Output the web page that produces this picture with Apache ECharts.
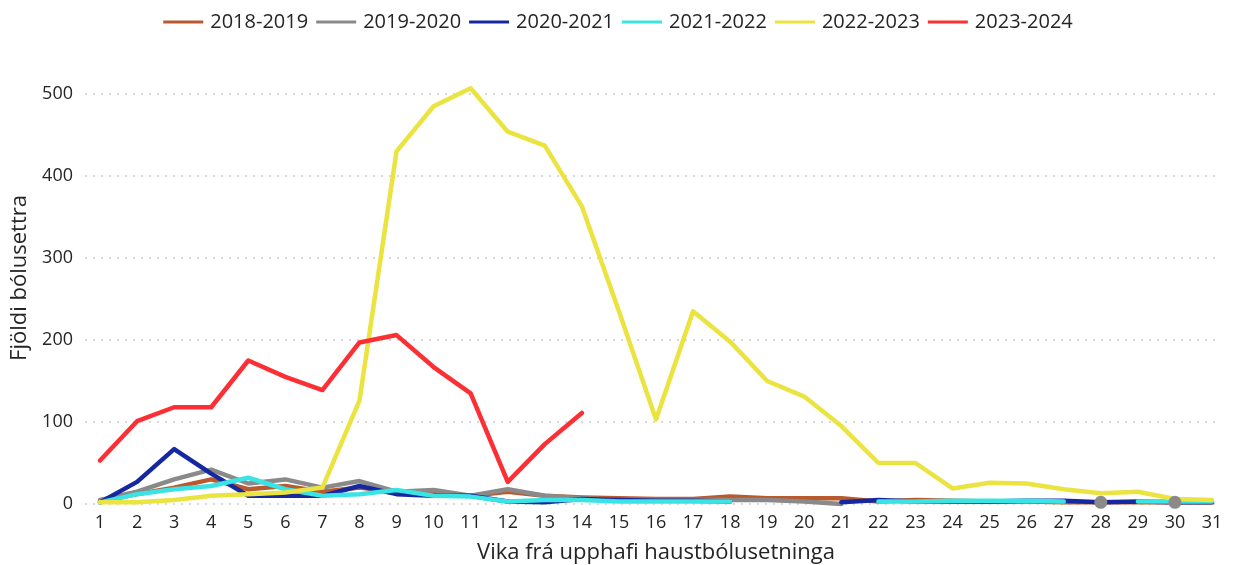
<!DOCTYPE html>
<html>
<head>
<meta charset="utf-8">
<script src="https://cdn.jsdelivr.net/npm/echarts@6/dist/echarts.min.js"></script>
<style>
  html, body { margin: 0; padding: 0; background: #fff; }
  #chart { width: 1236px; height: 565px; }
</style>
</head>
<body>
<div id="chart"></div>
<script>
var weeks = [];
for (var w = 1; w <= 31; w++) weeks.push(String(w));

var s2018 = [3, 12, 20, 30, 18, 22, 15, 20, 15, 12, 10, 15, 10, 8, 7, 6, 6, 9, 7, 7, 7, 3, 5, 4, 3, 3, 2, 2, 2, 2, 2];
var s2019 = [5, 15, 30, 42, 25, 30, 20, 28, 15, 17, 10, 18, 10, 7, 5, 5, 5, 5, 5, 3, 0, null, null, null, null, null, null, 2, null, 2, null];
var s2020 = [2, 27, 67, 37, 10, 10, 10, 22, 12, 10, 10, 3, 2, 6, 5, 4, 4, 3, null, null, 2, 5, 3, 3, 3, 4, 4, 2, 3, 2, 2];
var s2021 = [2, 12, 18, 22, 32, 18, 10, 12, 17, 10, 9, 3, 5, 5, 3, 3, 3, 3, null, null, null, 3, 3, 4, 4, 4, 3, null, 3, 3, 3];
var s2022 = [2, 2, 5, 10, 12, 14, 20, 126, 430, 485, 507, 454, 437, 363, 235, 103, 235, 198, 150, 131, 95, 50, 50, 19, 26, 25, 18, 13, 15, 6, 5];
var s2023 = [53, 101, 118, 118, 175, 155, 139, 197, 206, 167, 135, 27, 73, 111];

var names = ['2018-2019', '2019-2020', '2020-2021', '2021-2022', '2022-2023', '2023-2024'];
var colors = ['#b85a2e', '#8a8a8a', '#1628a0', '#3ae4e4', '#ebe33f', '#fc3034'];
var values = [s2018, s2019, s2020, s2021, s2022, s2023];

var font = '"Open Sans", "Noto Sans", sans-serif';

var series = [];
for (var i = 0; i < names.length; i++) {
    series.push({
        name: names[i],
        type: 'line',
        xAxisIndex: 1,
        yAxisIndex: 1,
        data: values[i],
        showSymbol: false,
        clip: false,
        lineStyle: { width: 4.5, color: colors[i], join: 'round', cap: 'round' },
        itemStyle: { color: colors[i] },
        emphasis: { disabled: true }
    });
}
// grey points that have no neighbours, drawn on top
series.push({
    name: names[1],
    type: 'line',
    xAxisIndex: 1,
    yAxisIndex: 1,
    data: s2019,
    z: 5,
    symbol: 'circle',
    showAllSymbol: true,
    symbolSize: function(v, p) {
        var k = p.dataIndex;
        var prev = k > 0 ? s2019[k - 1] : null;
        var next = k < s2019.length - 1 ? s2019[k + 1] : null;
        return (prev == null && next == null) ? 13 : 0;
    },
    clip: false,
    lineStyle: { width: 0, opacity: 0 },
    itemStyle: { color: colors[1] },
    emphasis: { disabled: true }
});

var chart = echarts.init(document.getElementById('chart'));
chart.setOption({
    animation: false,
    textStyle: { fontFamily: font },
    legend: {
        top: 7,
        left: 'center',
        itemWidth: 40,
        itemHeight: 3,
        itemGap: 8,
        icon: 'rect',
        textStyle: { fontSize: 20, color: '#252525', fontFamily: font, padding: [0, 0, 0, 2] },
        data: names
    },
    grid: [
        { left: 85, right: 16, top: 94, bottom: 61, outerBoundsMode: 'none' },
        { left: 100, right: 24, top: 94, bottom: 61, outerBoundsMode: 'none' }
    ],
    xAxis: [
        { gridIndex: 0, type: 'value', show: false, min: 0, max: 1 },
        {
            gridIndex: 1,
            type: 'category',
            data: weeks,
            boundaryGap: false,
            name: 'Vika frá upphafi haustbólusetninga',
            nameLocation: 'middle',
            nameGap: 38,
            nameTextStyle: { fontSize: 22, color: '#252525', fontFamily: font },
            axisLine: { show: false },
            axisTick: { show: false },
            axisLabel: { fontSize: 18, color: '#252525', margin: 10, interval: 0, fontFamily: font }
        }
    ],
    yAxis: [
        {
            gridIndex: 0,
            type: 'value',
            min: 0,
            max: 500,
            interval: 100,
            name: 'Fjöldi bólusettra',
            nameLocation: 'middle',
            nameGap: 54,
            nameTextStyle: { fontSize: 22, color: '#252525', fontFamily: font, padding: [0, 0, 0, 42] },
            axisLine: { show: false },
            axisTick: { show: false },
            axisLabel: { fontSize: 18, color: '#252525', margin: 12, fontFamily: font },
            splitLine: { lineStyle: { color: '#cccccc', type: [2, 6], width: 1.5 } }
        },
        { gridIndex: 1, type: 'value', min: 0, max: 500, interval: 100, show: false, splitLine: { show: false } }
    ],
    series: series
});
</script>
</body>
</html>
